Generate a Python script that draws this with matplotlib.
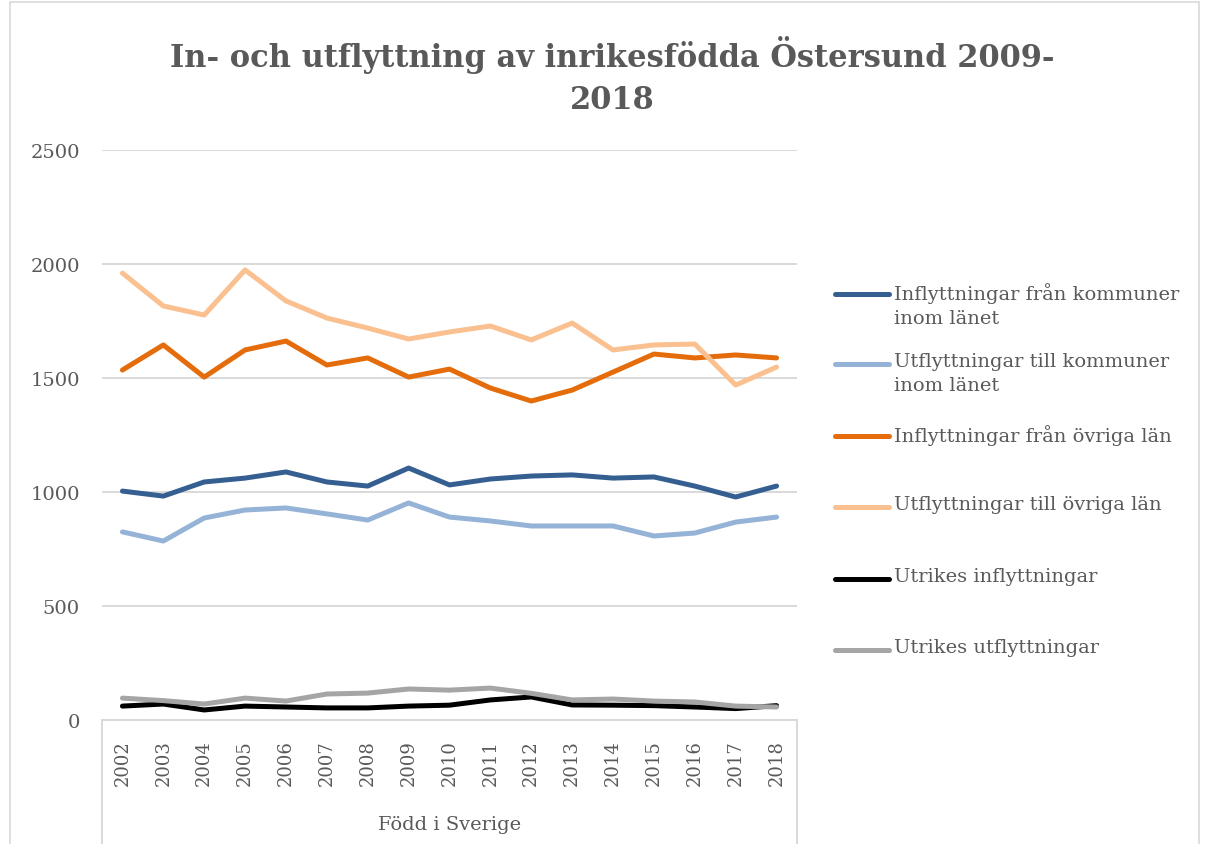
import matplotlib
matplotlib.use("Agg")
import matplotlib.pyplot as plt
from matplotlib.lines import Line2D
from matplotlib.patches import Rectangle

# -----------------------------
# Data
# -----------------------------
years = [str(y) for y in range(2002, 2019)]
group_label = "Född i Sverige"

infl_kommuner = [1004, 982, 1044, 1061, 1088, 1044, 1026, 1105, 1031,
                 1057, 1070, 1075, 1061, 1066, 1026, 978, 1026]
utfl_kommuner = [825, 785, 886, 921, 930, 904, 877, 952, 890,
                 873, 851, 851, 851, 807, 820, 868, 890]
infl_ovriga = [1535, 1645, 1504, 1623, 1662, 1557, 1588, 1504, 1539,
               1456, 1399, 1447, 1526, 1605, 1588, 1601, 1588]
utfl_ovriga = [1960, 1816, 1776, 1974, 1838, 1763, 1719, 1671, 1702,
               1728, 1667, 1741, 1623, 1645, 1649, 1469, 1548]
utr_infl = [61, 70, 44, 61, 57, 53, 53, 61, 65,
            88, 101, 66, 65, 63, 57, 50, 63]
utr_utfl = [96, 85, 70, 96, 83, 114, 118, 136, 131,
            140, 117, 88, 92, 83, 79, 61, 57]

series = [
    ("Inflyttningar från kommuner\ninom länet", infl_kommuner, "#355f91"),
    ("Utflyttningar till kommuner\ninom länet", utfl_kommuner, "#95b3d7"),
    ("Inflyttningar från övriga län", infl_ovriga, "#e46c0a"),
    ("Utflyttningar till övriga län", utfl_ovriga, "#fac090"),
    ("Utrikes inflyttningar", utr_infl, "#000000"),
    ("Utrikes utflyttningar", utr_utfl, "#a5a5a5"),
]

TITLE = "In- och utflyttning av inrikesfödda Östersund 2009-\n2018"
TEXT_COLOR = "#595959"
GRID_COLOR = "#d9d9d9"

plt.rcParams["font.family"] = ["DejaVu Serif"]

# -----------------------------
# Figure
# -----------------------------
W, H = 1205, 845
fig = plt.figure(figsize=(W / 100, H / 100), dpi=100)

# outer chart frame
fig.patches.append(Rectangle((10 / W, -0.01), (1199 - 10) / W, 1.0 - 3 / H + 0.01,
                             transform=fig.transFigure, fill=False,
                             edgecolor=GRID_COLOR, linewidth=1.2))

left, right, top, bottom = 102, 797, 151, 721
ax = fig.add_axes([left / W, (H - bottom) / H, (right - left) / W, (bottom - top) / H])

x = list(range(len(years)))
for label, values, color in series:
    ax.plot(x, values, color=color, linewidth=3.6, solid_capstyle="round",
            solid_joinstyle="round", zorder=3)

ax.set_xlim(-0.5, len(years) - 0.5)
ax.set_ylim(0, 2500)
ax.set_yticks([0, 500, 1000, 1500, 2000, 2500])
ax.yaxis.grid(True, color=GRID_COLOR, linewidth=1.4)
ax.set_axisbelow(True)

for side in ["top", "right", "left"]:
    ax.spines[side].set_visible(False)
ax.spines["bottom"].set_color(GRID_COLOR)
ax.spines["bottom"].set_linewidth(1.4)

ax.set_xticks(x)
ax.set_xticklabels(years, rotation=90, fontsize=13, color=TEXT_COLOR)
ax.tick_params(axis="x", length=0, pad=14)
ax.tick_params(axis="y", length=0, pad=16, labelsize=14, labelcolor=TEXT_COLOR)

# category box edges below the axis
depth = (H - bottom + 5) / (bottom - top)
for xe in [0, 1]:
    ax.plot([xe, xe], [0, -depth], transform=ax.transAxes, color=GRID_COLOR,
            linewidth=1.4, clip_on=False)
ax.text(0.5, -(825 - bottom) / (bottom - top), group_label, transform=ax.transAxes,
        ha="center", va="center", fontsize=14, color=TEXT_COLOR)

fig.text(612 / W, 1 - 76 / H, TITLE, ha="center", va="center", fontsize=22,
         fontweight="bold", color=TEXT_COLOR, linespacing=1.45)

# legend, Excel style: handle aligned with the first text line
legend_y = [295, 365, 437, 508, 580, 651]
for (label, values, color), ly in zip(series, legend_y):
    fig.add_artist(Line2D([835 / W, 889 / W], [1 - ly / H, 1 - ly / H],
                          transform=fig.transFigure, color=color, linewidth=3.6,
                          solid_capstyle="round"))
    fig.text(894 / W, 1 - (ly - 12) / H, label, ha="left", va="top", fontsize=14,
             color=TEXT_COLOR, linespacing=1.45)

fig.savefig("out.png", dpi=100)
